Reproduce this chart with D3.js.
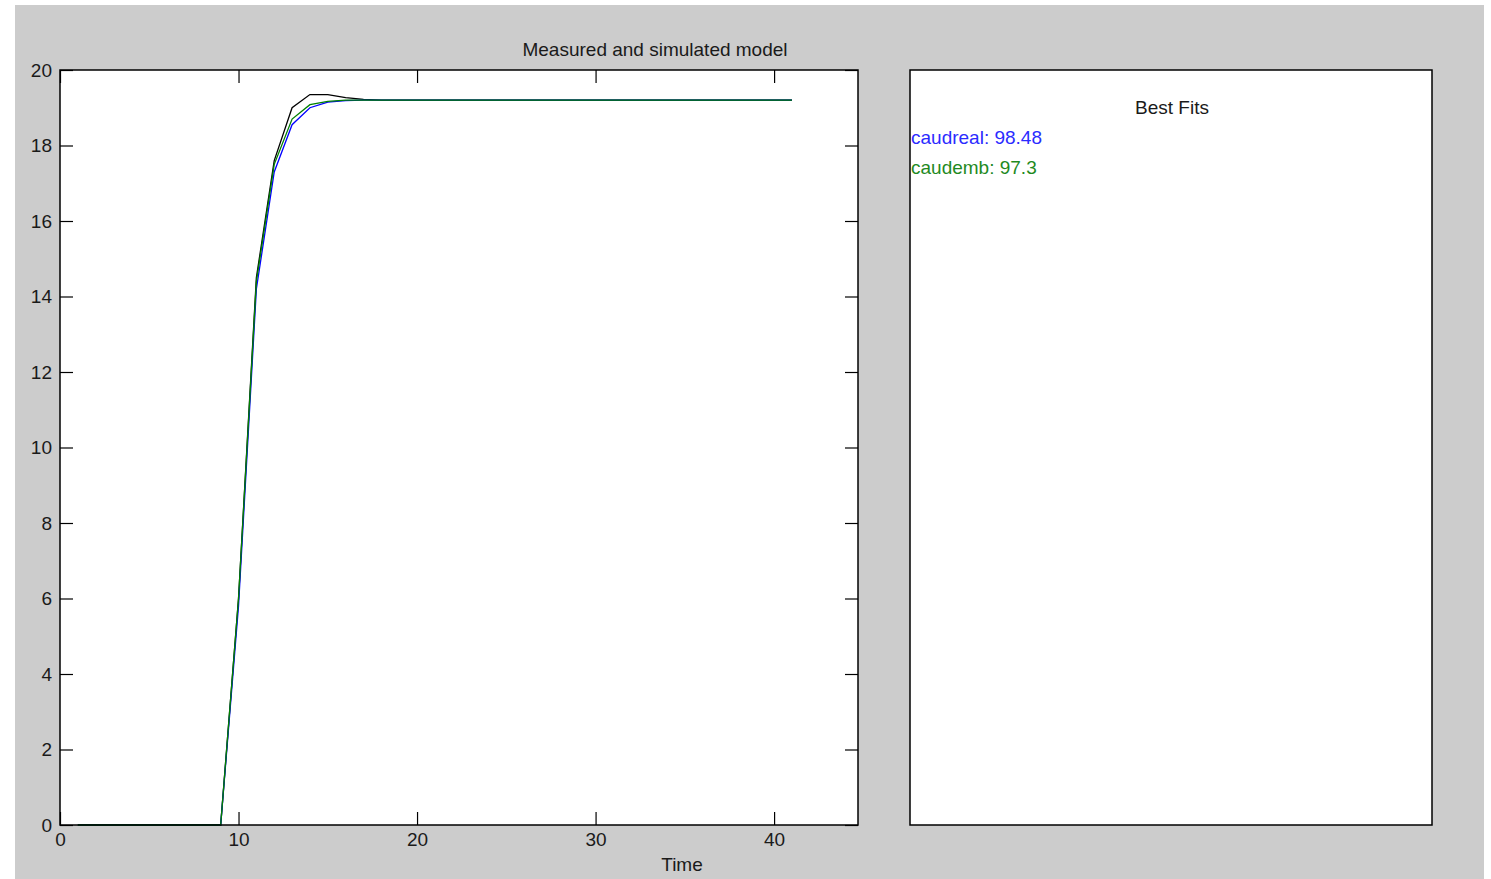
<!DOCTYPE html>
<html>
<head>
<meta charset="utf-8">
<script src="https://cdn.jsdelivr.net/npm/d3@7"></script>
<style>
  html, body { margin: 0; padding: 0; background: #ffffff; }
  svg { display: block; }
  text { font-family: "Liberation Sans", Arial, sans-serif; fill: #1a1a1a; }
</style>
</head>
<body>
<svg id="chart" width="1491" height="879"></svg>
<script>
// Sample times (s)
const time = d3.range(1, 42);

// Measured output: flat, step starts at t = 9, slight overshoot near t = 14
const measured = [
  0, 0, 0, 0, 0, 0, 0, 0, 0,
  6.0, 14.5, 17.6, 19.0, 19.35, 19.35, 19.27, 19.22,
  19.2, 19.2, 19.2, 19.2, 19.2, 19.2, 19.2, 19.2, 19.2, 19.2, 19.2,
  19.2, 19.2, 19.2, 19.2, 19.2, 19.2, 19.2, 19.2, 19.2, 19.2, 19.2, 19.2, 19.2
];

// Simulated model "caudreal"
const caudreal = [
  0, 0, 0, 0, 0, 0, 0, 0, 0,
  5.8, 14.2, 17.3, 18.55, 19.0, 19.15, 19.19, 19.2,
  19.2, 19.2, 19.2, 19.2, 19.2, 19.2, 19.2, 19.2, 19.2, 19.2, 19.2,
  19.2, 19.2, 19.2, 19.2, 19.2, 19.2, 19.2, 19.2, 19.2, 19.2, 19.2, 19.2, 19.2
];

// Simulated model "caudemb"
const caudemb = [
  0, 0, 0, 0, 0, 0, 0, 0, 0,
  6.0, 14.4, 17.5, 18.7, 19.08, 19.17, 19.2, 19.2,
  19.2, 19.2, 19.2, 19.2, 19.2, 19.2, 19.2, 19.2, 19.2, 19.2, 19.2,
  19.2, 19.2, 19.2, 19.2, 19.2, 19.2, 19.2, 19.2, 19.2, 19.2, 19.2, 19.2, 19.2
];

const xTicks = [0, 10, 20, 30, 40];
const yTicks = [0, 2, 4, 6, 8, 10, 12, 14, 16, 18, 20];
const fitNames = ["caudreal", "caudemb"];
const fitValues = ["98.48", "97.3"];

const svg = d3.select("#chart");

// figure background
svg.append("rect").attr("x", 15).attr("y", 5).attr("width", 1469).attr("height", 874)
  .attr("fill", "#cccccc");

// main axes box
const L = 60, R = 858, T = 70, B = 825;
const x = d3.scaleLinear().domain([0, 44.7]).range([L, R]);
const y = d3.scaleLinear().domain([0, 20]).range([B, T]);

svg.append("rect").attr("x", L).attr("y", T).attr("width", R - L).attr("height", B - T)
  .attr("fill", "#ffffff");

const tickLen = 13;
const fontSize = "19px";

// inward-facing ticks on all four sides
const axisBottom = d3.axisBottom(x).tickValues(xTicks).tickSizeInner(-tickLen).tickSizeOuter(0).tickPadding(8);
const axisTop = d3.axisTop(x).tickValues(xTicks).tickSizeInner(-tickLen).tickSizeOuter(0).tickFormat("");
const axisLeft = d3.axisLeft(y).tickValues(yTicks).tickSizeInner(-tickLen).tickSizeOuter(0).tickPadding(8);
const axisRight = d3.axisRight(y).tickValues(yTicks).tickSizeInner(-tickLen).tickSizeOuter(0).tickFormat("");

function styleAxis(g) {
  g.select(".domain").remove();
  g.selectAll(".tick line").attr("stroke", "#000").attr("stroke-width", 1.2);
  g.selectAll(".tick text").style("font-size", fontSize).attr("fill", "#1a1a1a");
}

svg.append("g").attr("transform", `translate(0,${B})`).call(axisBottom).call(styleAxis);
svg.append("g").attr("transform", `translate(0,${T})`).call(axisTop).call(styleAxis);
svg.append("g").attr("transform", `translate(${L},0)`).call(axisLeft).call(styleAxis);
svg.append("g").attr("transform", `translate(${R},0)`).call(axisRight).call(styleAxis);

// data lines
const line = d3.line().x((d, i) => x(time[i])).y(d => y(d));
const plot = svg.append("g");
plot.append("path").datum(measured).attr("d", line)
  .attr("fill", "none").attr("stroke", "#000000").attr("stroke-width", 1.3);
plot.append("path").datum(caudreal).attr("d", line)
  .attr("fill", "none").attr("stroke", "#0000ff").attr("stroke-width", 1.3);
plot.append("path").datum(caudemb).attr("d", line)
  .attr("fill", "none").attr("stroke", "#008000").attr("stroke-width", 1.3);

// frame
svg.append("rect").attr("x", L).attr("y", T).attr("width", R - L).attr("height", B - T)
  .attr("fill", "none").attr("stroke", "#000").attr("stroke-width", 1.5);

// titles
svg.append("text").attr("x", 655).attr("y", 56).attr("text-anchor", "middle")
  .style("font-size", fontSize).text("Measured and simulated model");
svg.append("text").attr("x", 682).attr("y", 871).attr("text-anchor", "middle")
  .style("font-size", fontSize).text("Time");

// fit panel
const PL = 910, PR = 1432;
svg.append("rect").attr("x", PL).attr("y", T).attr("width", PR - PL).attr("height", B - T)
  .attr("fill", "#ffffff").attr("stroke", "#000").attr("stroke-width", 1.5);
svg.append("text").attr("x", 1172).attr("y", 114).attr("text-anchor", "middle")
  .style("font-size", fontSize).text("Best Fits");

const fitColors = ["#2b2bff", "#1f8a1f"];
svg.append("g").selectAll("text").data(fitNames).join("text")
  .attr("x", PL + 1)
  .attr("y", (d, i) => 144 + i * 30)
  .style("font-size", fontSize)
  .style("fill", (d, i) => fitColors[i])
  .text((d, i) => `${d}: ${fitValues[i]}`);
</script>
</body>
</html>
